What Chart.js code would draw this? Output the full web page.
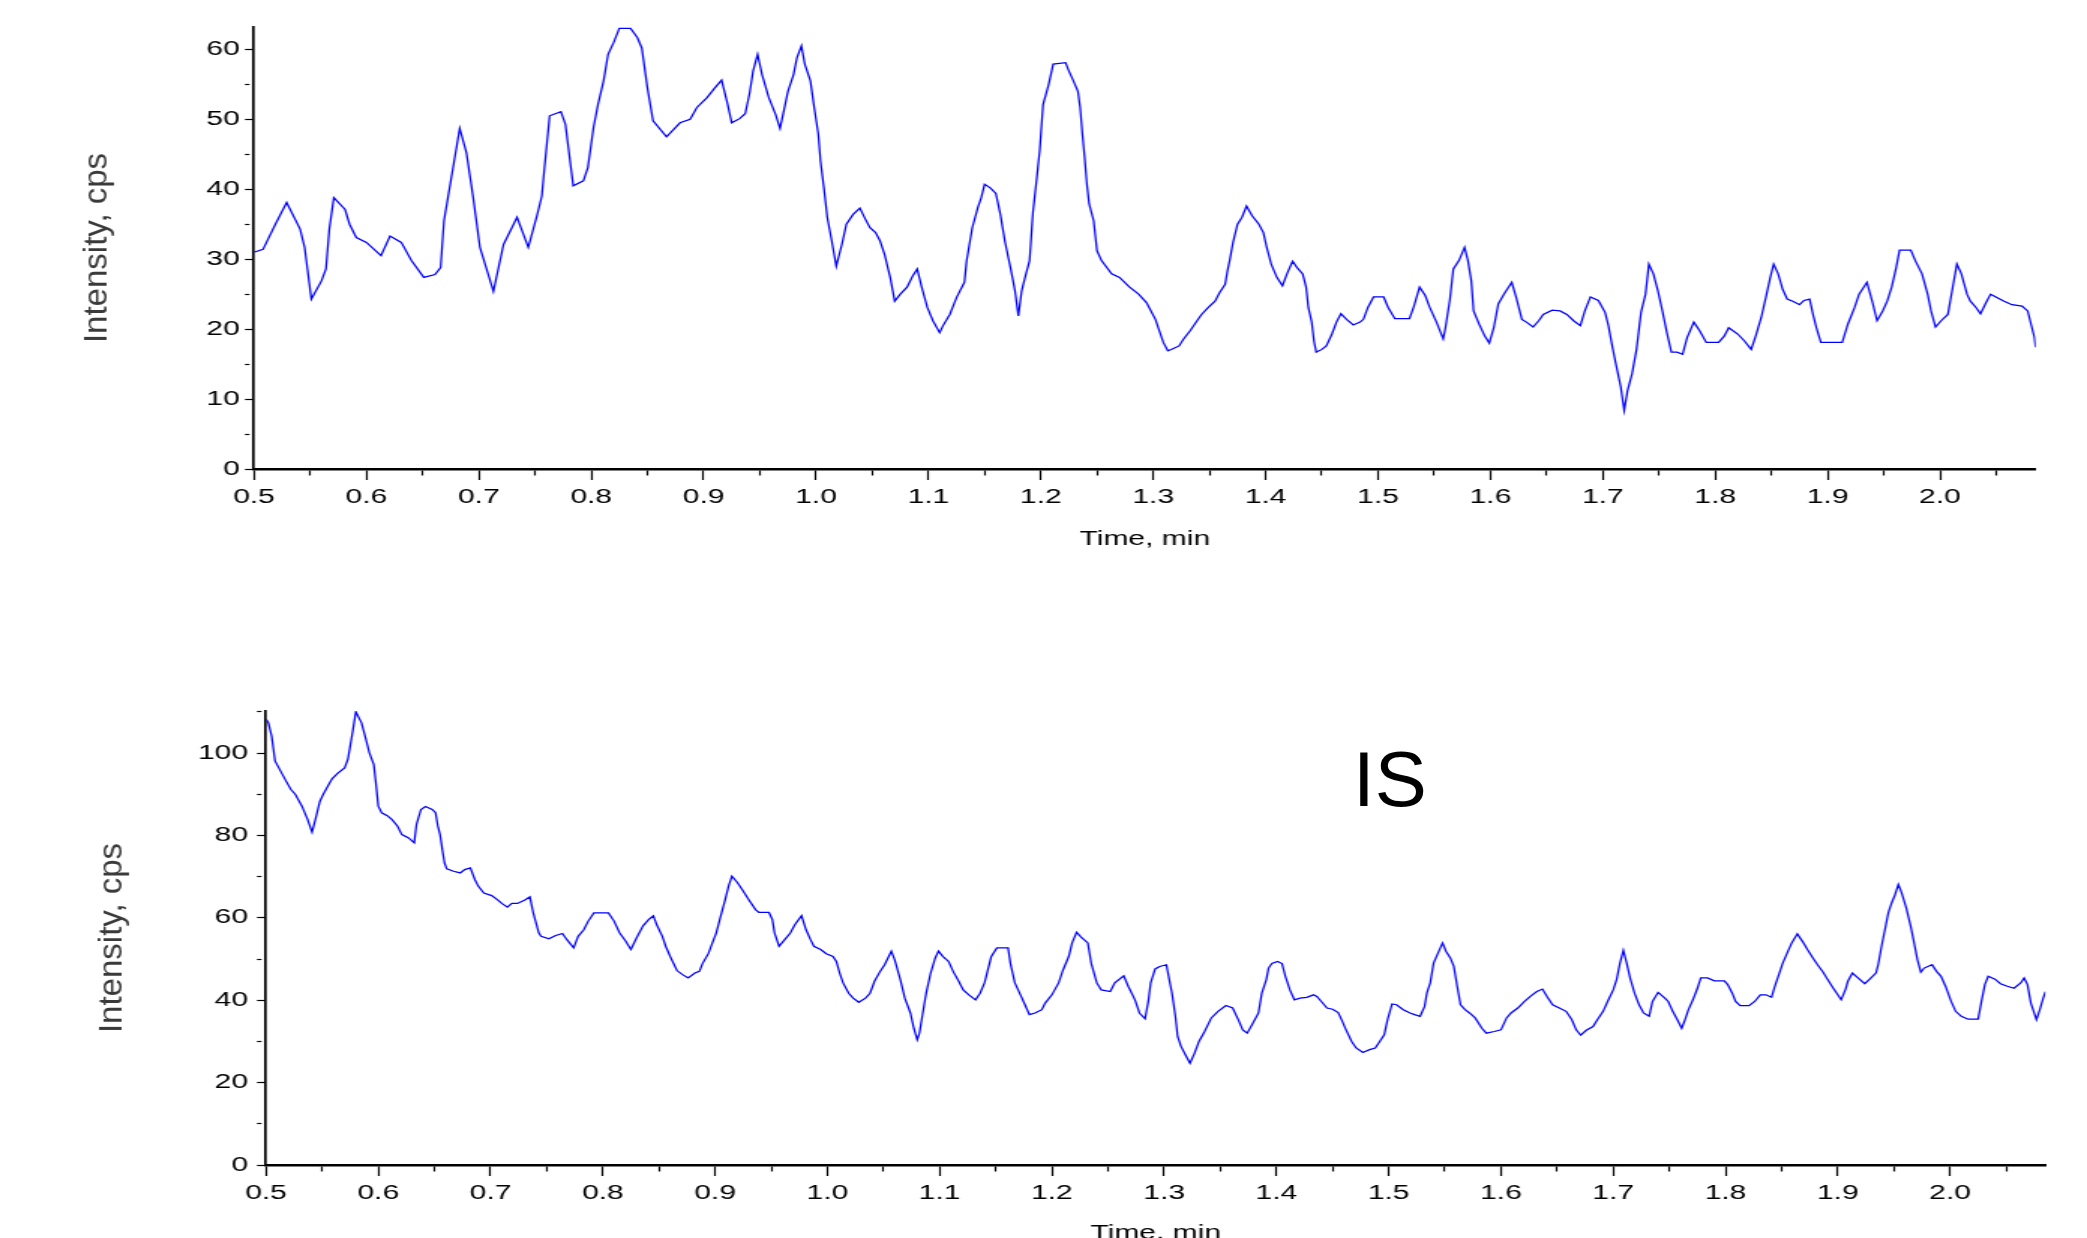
<!DOCTYPE html>
<html><head><meta charset="utf-8">
<script src="https://cdn.jsdelivr.net/npm/chart.js@4.4.1/dist/chart.umd.min.js"></script>
<style>
html,body{margin:0;padding:0;background:#fff;overflow:hidden;width:2087px;height:1238px;position:relative}
canvas{position:absolute;left:0}
#is{position:absolute;left:1353px;top:740px;font:78px/78px "Liberation Sans",Arial,sans-serif;color:#000}
</style></head><body>
<canvas id="c1" width="1391" height="600" style="top:0;width:2087px;height:600px"></canvas>
<canvas id="c2" width="1391" height="700" style="top:600px;width:2087px;height:700px"></canvas>
<div id="is">IS</div>
<script>
// ---------- data ----------
const analyteTimes = [
0.500,0.508,0.519,0.529,0.541,0.545,0.551,0.560,0.564,0.567,
0.571,0.581,0.585,0.591,0.600,0.613,0.621,0.631,0.640,0.651,
0.661,0.666,0.669,0.674,0.683,0.689,0.695,0.701,0.713,0.722,
0.734,0.744,0.752,0.756,0.758,0.763,0.773,0.777,0.784,0.793,
0.797,0.802,0.806,0.811,0.815,0.820,0.825,0.835,0.841,0.845,
0.850,0.855,0.867,0.879,0.888,0.894,0.903,0.910,0.916,0.921,
0.925,0.932,0.937,0.941,0.944,0.948,0.952,0.958,0.964,0.968,
0.972,0.975,0.980,0.983,0.987,0.990,0.995,0.998,1.002,1.004,
1.007,1.010,1.014,1.018,1.023,1.027,1.033,1.039,1.044,1.048,
1.053,1.057,1.061,1.066,1.070,1.075,1.081,1.086,1.090,1.094,
1.099,1.104,1.110,1.113,1.119,1.125,1.132,1.134,1.139,1.144,
1.147,1.150,1.155,1.160,1.164,1.168,1.173,1.177,1.180,1.183,
1.186,1.190,1.193,1.196,1.199,1.202,1.207,1.211,1.222,1.225,
1.229,1.233,1.235,1.237,1.239,1.241,1.243,1.247,1.250,1.254,
1.263,1.270,1.279,1.287,1.294,1.298,1.302,1.306,1.309,1.313,
1.316,1.323,1.327,1.333,1.339,1.343,1.349,1.355,1.359,1.364,
1.366,1.368,1.371,1.375,1.379,1.383,1.388,1.394,1.398,1.401,
1.405,1.410,1.415,1.419,1.424,1.428,1.433,1.436,1.438,1.441,
1.443,1.445,1.450,1.454,1.459,1.463,1.467,1.472,1.478,1.484,
1.487,1.491,1.496,1.505,1.509,1.515,1.528,1.532,1.537,1.542,
1.546,1.552,1.558,1.560,1.564,1.567,1.572,1.577,1.580,1.583,
1.585,1.590,1.595,1.599,1.603,1.607,1.612,1.619,1.623,1.628,
1.632,1.638,1.643,1.647,1.655,1.662,1.668,1.674,1.680,1.684,
1.689,1.696,1.702,1.705,1.708,1.711,1.716,1.719,1.722,1.726,
1.730,1.734,1.738,1.741,1.745,1.749,1.753,1.757,1.761,1.766,
1.771,1.775,1.781,1.786,1.792,1.803,1.808,1.812,1.820,1.826,
1.832,1.836,1.841,1.845,1.849,1.852,1.856,1.860,1.864,1.869,
1.875,1.879,1.884,1.887,1.890,1.894,1.913,1.918,1.924,1.928,
1.935,1.940,1.944,1.949,1.953,1.957,1.961,1.964,1.974,1.978,
1.984,1.989,1.992,1.996,2.001,2.007,2.011,2.015,2.019,2.024,
2.027,2.032,2.036,2.041,2.045,2.051,2.057,2.064,2.073,2.078,
2.081,2.084,2.085];
const analyteCps = [
31.0,31.4,35.0,38.1,34.3,31.7,24.3,26.9,28.6,34.3,
38.8,37.1,35.0,33.1,32.4,30.5,33.3,32.4,29.8,27.4,
27.8,28.8,35.5,40.2,48.7,45.2,38.8,31.7,25.4,32.1,
36.0,31.7,36.4,39.0,42.4,50.5,51.1,49.3,40.5,41.2,
43.1,48.8,52.1,55.5,59.3,61.0,63.0,63.0,61.7,60.2,
54.5,49.8,47.5,49.5,50.0,51.7,53.1,54.5,55.6,52.4,
49.5,50.1,50.8,53.8,56.9,59.3,56.4,53.1,50.7,48.7,
51.7,54.0,56.4,58.8,60.5,57.9,55.5,52.1,47.9,44.0,
40.2,36.0,32.6,29.0,32.1,35.0,36.4,37.3,35.7,34.5,
33.8,32.6,30.7,27.4,24.0,25.0,26.0,27.6,28.6,26.0,
23.1,21.2,19.5,20.5,22.1,24.5,26.7,29.8,34.5,37.4,
38.8,40.7,40.2,39.4,36.4,32.6,28.8,25.5,21.9,25.5,
27.4,29.8,36.7,41.0,45.5,52.1,55.0,57.9,58.1,56.9,
55.5,54.0,51.7,47.9,44.5,40.7,37.9,35.5,31.2,29.8,
27.9,27.4,26.0,25.0,23.8,22.6,21.4,19.5,18.1,16.9,
17.1,17.6,18.6,19.8,21.2,22.1,23.1,24.0,25.2,26.4,
28.3,29.8,32.4,35.0,36.0,37.6,36.2,35.0,33.8,31.7,
29.3,27.4,26.2,27.9,29.7,28.8,27.9,26.0,23.1,21.0,
18.3,16.7,17.1,17.6,19.3,21.0,22.2,21.4,20.6,21.0,
21.4,23.1,24.6,24.6,23.1,21.5,21.5,23.3,26.0,24.8,
23.1,21.0,18.6,20.2,24.3,28.6,29.8,31.7,29.8,26.9,
22.6,20.7,19.0,18.0,20.2,23.6,25.0,26.7,24.5,21.4,
21.0,20.3,21.2,22.1,22.7,22.6,22.1,21.2,20.5,22.6,
24.6,24.1,22.4,20.5,17.9,15.5,11.7,8.4,11.2,13.6,
17.1,22.4,25.0,29.3,27.9,25.5,22.6,19.5,16.7,16.7,
16.4,18.8,21.0,19.8,18.1,18.1,19.0,20.2,19.3,18.3,
17.1,19.0,21.7,24.5,27.4,29.3,27.9,25.7,24.3,24.0,
23.5,24.1,24.3,22.1,20.2,18.1,18.1,20.7,23.1,25.0,
26.7,23.8,21.2,22.6,24.0,26.0,28.8,31.3,31.3,29.8,
27.9,25.0,22.6,20.3,21.2,22.1,25.7,29.3,27.9,25.0,
24.0,23.1,22.2,23.8,25.0,24.5,24.0,23.5,23.3,22.6,
20.7,18.8,17.4];

const isTimes = [
0.500,0.502,0.505,0.508,0.513,0.517,0.522,0.526,0.532,0.537,
0.541,0.544,0.548,0.551,0.556,0.559,0.564,0.570,0.573,0.577,
0.580,0.585,0.589,0.592,0.596,0.598,0.600,0.603,0.608,0.612,
0.617,0.621,0.627,0.632,0.634,0.638,0.642,0.648,0.651,0.653,
0.655,0.657,0.659,0.661,0.667,0.673,0.677,0.682,0.686,0.689,
0.694,0.701,0.706,0.710,0.715,0.719,0.724,0.731,0.735,0.738,
0.743,0.745,0.752,0.758,0.764,0.768,0.774,0.778,0.783,0.787,
0.792,0.805,0.810,0.815,0.820,0.825,0.830,0.836,0.841,0.845,
0.848,0.853,0.856,0.860,0.866,0.871,0.876,0.882,0.886,0.889,
0.894,0.897,0.901,0.905,0.909,0.912,0.915,0.920,0.925,0.930,
0.936,0.939,0.948,0.951,0.953,0.957,0.962,0.967,0.971,0.977,
0.981,0.985,0.988,0.994,0.999,1.005,1.008,1.011,1.014,1.019,
1.023,1.028,1.034,1.038,1.042,1.047,1.051,1.057,1.060,1.065,
1.069,1.074,1.077,1.080,1.082,1.085,1.088,1.092,1.096,1.099,
1.103,1.108,1.112,1.117,1.121,1.126,1.132,1.136,1.140,1.143,
1.146,1.151,1.161,1.163,1.167,1.172,1.176,1.180,1.185,1.191,
1.194,1.200,1.206,1.210,1.215,1.218,1.222,1.226,1.232,1.235,
1.240,1.244,1.252,1.256,1.264,1.268,1.274,1.278,1.283,1.286,
1.288,1.292,1.296,1.302,1.304,1.307,1.310,1.312,1.315,1.319,
1.323,1.327,1.331,1.336,1.342,1.348,1.355,1.361,1.366,1.370,
1.374,1.379,1.384,1.387,1.391,1.393,1.396,1.401,1.405,1.408,
1.412,1.416,1.421,1.427,1.433,1.436,1.440,1.445,1.450,1.455,
1.458,1.462,1.467,1.471,1.477,1.483,1.488,1.492,1.496,1.499,
1.503,1.507,1.513,1.519,1.523,1.528,1.532,1.534,1.537,1.540,
1.544,1.548,1.551,1.555,1.558,1.561,1.564,1.568,1.572,1.577,
1.583,1.587,1.594,1.600,1.605,1.609,1.615,1.621,1.627,1.632,
1.637,1.641,1.646,1.652,1.658,1.663,1.667,1.671,1.676,1.682,
1.686,1.691,1.695,1.700,1.703,1.706,1.709,1.712,1.715,1.719,
1.723,1.727,1.732,1.735,1.740,1.746,1.749,1.753,1.757,1.761,
1.764,1.767,1.771,1.775,1.778,1.784,1.790,1.799,1.802,1.806,
1.809,1.813,1.821,1.826,1.831,1.836,1.841,1.844,1.848,1.851,
1.855,1.859,1.864,1.869,1.873,1.878,1.882,1.887,1.891,1.896,
1.900,1.903,1.907,1.909,1.913,1.918,1.924,1.928,1.934,1.936,
1.939,1.942,1.945,1.948,1.951,1.954,1.957,1.961,1.965,1.968,
1.971,1.974,1.977,1.984,1.988,1.992,1.996,2.001,2.005,2.010,
2.016,2.025,2.028,2.031,2.034,2.040,2.045,2.051,2.057,2.063,
2.066,2.069,2.072,2.077,2.080,2.083,2.085];
const isCps = [
108.2,107.4,104.1,98.1,95.6,93.6,91.2,90.0,87.1,83.9,
80.8,83.9,88.3,90.0,92.4,93.8,95.1,96.4,98.6,104.9,
110.0,107.4,103.3,100.1,97.2,92.4,87.1,85.5,84.8,83.9,
82.3,80.2,79.4,78.2,82.7,86.3,87.0,86.3,85.5,82.3,
80.2,76.6,73.3,71.9,71.3,70.9,71.7,72.1,69.3,67.7,
66.0,65.4,64.4,63.5,62.6,63.5,63.5,64.4,65.1,61.2,
56.3,55.5,54.9,55.7,56.2,54.7,52.7,55.5,57.1,59.2,
61.2,61.2,59.2,56.3,54.5,52.3,55.1,58.1,59.6,60.5,
58.3,55.5,53.1,50.6,47.2,46.2,45.4,46.6,47.0,49.0,
51.3,53.5,56.3,60.4,64.4,67.7,70.1,68.5,66.5,64.4,
62.0,61.3,61.3,59.6,56.3,53.1,54.7,56.3,58.3,60.5,
57.1,54.7,53.1,52.3,51.3,50.6,49.4,46.6,44.2,41.7,
40.5,39.5,40.5,41.7,44.6,47.0,48.6,51.9,49.8,45.0,
40.5,36.9,33.2,30.4,32.0,36.9,41.7,46.6,50.2,51.9,
50.6,49.4,47.0,44.6,42.5,41.3,40.1,41.7,44.2,47.4,
50.6,52.7,52.7,49.0,44.2,41.3,38.9,36.5,36.9,37.7,
39.3,41.3,44.2,47.4,50.6,53.9,56.5,55.3,53.9,49.0,
44.2,42.5,42.1,44.2,45.9,43.4,40.1,36.9,35.5,39.9,
44.2,47.6,48.2,48.6,45.8,41.7,36.1,31.2,28.8,26.7,
24.7,27.1,30.0,32.4,35.7,37.3,38.7,38.1,35.3,32.8,
32.0,34.4,36.9,41.7,45.0,47.8,48.9,49.4,48.9,45.8,
42.5,40.1,40.5,40.7,41.3,40.9,39.7,38.1,37.8,37.0,
35.3,32.8,30.0,28.4,27.3,28.0,28.4,30.0,31.6,35.3,
39.1,38.9,37.7,36.9,36.5,36.1,38.5,41.7,44.2,49.0,
51.5,53.9,51.9,50.2,48.2,43.4,38.9,37.7,36.9,35.7,
33.2,32.0,32.4,32.8,35.7,36.9,38.1,39.7,41.1,42.1,
42.7,40.9,38.9,38.1,37.3,35.3,32.8,31.5,32.7,33.6,
35.3,37.3,39.7,42.5,45.0,49.0,52.1,49.0,45.4,41.7,
38.9,36.9,36.1,39.7,41.9,40.5,39.7,37.3,35.3,33.2,
35.3,37.7,40.1,42.9,45.4,45.4,44.7,44.7,43.8,41.7,
39.7,38.7,38.7,39.7,41.3,41.3,40.7,43.4,46.6,49.0,
51.5,53.9,56.1,54.1,52.3,50.2,48.6,46.8,45.0,42.9,
41.3,40.1,42.7,44.6,46.6,45.4,44.0,45.0,46.6,48.6,
53.1,57.1,61.2,63.6,65.6,68.1,66.0,62.4,57.9,53.9,
49.8,46.8,47.8,48.6,47.0,45.8,43.4,39.7,37.3,36.1,
35.4,35.4,39.7,43.8,45.8,45.1,44.0,43.4,42.9,44.2,
45.4,43.8,39.3,35.3,37.7,40.5,42.1];

const timeTickLabels = [0.5,0.6,0.7,0.8,0.9,1.0,1.1,1.2,1.3,1.4,1.5,1.6,1.7,1.8,1.9,2.0];
const analyteYTickLabels = [0,10,20,30,40,50,60];
const isYTickLabels = [0,20,40,60,80,100];

// ---------- chart ----------
const SX = 2087 / 1391;           // the canvas is drawn narrow and shown stretched (like the original)
const Y_TITLE_SIZE = 33;
Chart.defaults.font.family = '"Liberation Sans", Arial, sans-serif';
const near = (list, v) => list.some(t => Math.abs(t - v) < 1e-6);

// keeps the rotated y-axis title in normal proportions inside the stretched canvas
const yTitleUnstretch = {
  id: 'yTitleUnstretch',
  beforeDraw(chart, args, opts) {
    const s = chart.scales.y;
    if (!s || s._unstretched) return;
    const orig = s.drawTitle;
    s.drawTitle = function () {
      const ctx = this.ctx;
      const cx = this.left + opts.pad + Y_TITLE_SIZE * 1.2 / 2;
      ctx.save();
      ctx.translate(cx, 0); ctx.scale(1 / SX, 1); ctx.translate(-cx, 0);
      orig.call(this);
      ctx.restore();
    };
    s._unstretched = true;
  }
};

function buildChart(id, times, cps, yLabels, g) {
  const pts = times.map((t, i) => ({x: t, y: cps[i]}));
  return new Chart(document.getElementById(id), {
    type: 'line',
    data: {datasets: [{data: pts, borderColor: '#0000ff', borderWidth: 1.25,
      pointRadius: 0, tension: 0, fill: false}]},
    plugins: [yTitleUnstretch],
    options: {
      responsive: false, animation: false, devicePixelRatio: 1,
      layout: {padding: {left: 0, right: g.padRight, top: g.padTop, bottom: 0}},
      plugins: {legend: {display: false}, tooltip: {enabled: false},
        yTitleUnstretch: {pad: g.yTitlePad}},
      scales: {
        x: {
          type: 'linear', min: 0.5, max: 2.085,
          border: {display: true, color: '#000', width: 2.5},
          grid: {drawOnChartArea: false, drawTicks: true, tickLength: 11, tickColor: '#000', tickWidth: 1.2,
            tickBorderDash: (c) => (c.tick && near(timeTickLabels, c.tick.value)) ? [] : [5, 60]},
          ticks: {stepSize: 0.05, autoSkip: false, maxRotation: 0, includeBounds: false, padding: 5,
            color: '#000', font: {size: 20},
            callback: (v) => near(timeTickLabels, v) ? v.toFixed(1) : ''},
          title: {display: true, text: 'Time, min', color: '#000', font: {size: 20},
            padding: {top: 0, bottom: g.xTitlePad}},
          afterFit: (s) => { s.height = g.xAxisH; }
        },
        y: {
          min: 0, max: g.yMax,
          border: {display: true, color: '#000', width: 1.7},
          grid: {drawOnChartArea: false, drawTicks: true, tickLength: 6, tickColor: '#000', tickWidth: 1.2,
            tickBorderDash: (c) => (c.tick && near(yLabels, c.tick.value)) ? [] : [3, 60]},
          ticks: {stepSize: g.yStep, autoSkip: false, includeBounds: false, padding: g.yTickPad,
            color: '#000', font: {size: 20},
            callback: (v) => near(yLabels, v) ? String(v) : ''},
          title: {display: true, text: 'Intensity, cps', color: '#3a3a3a', font: {size: Y_TITLE_SIZE},
            padding: {top: g.yTitlePad, bottom: 0}},
          afterFit: (s) => { s.width = g.yAxisW; }
        }
      }
    }
  });
}

buildChart('c1', analyteTimes, analyteCps, analyteYTickLabels,
  {padRight: 34.3, padTop: 27, yMax: 63.2, yStep: 5, yAxisW: 169.3, yTickPad: 3.5,
   yTitlePad: 45.5, xAxisH: 131, xTitlePad: 49});
buildChart('c2', isTimes, isCps, isYTickLabels,
  {padRight: 27.7, padTop: 111, yMax: 110.2, yStep: 10, yAxisW: 177.3, yTickPad: 6,
   yTitlePad: 54.9, xAxisH: 135, xTitlePad: 55});
</script>
</body></html>
